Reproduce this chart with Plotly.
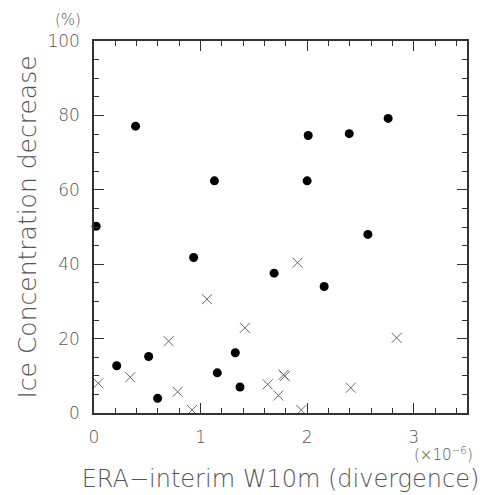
import plotly.graph_objects as go

# Filled circles (divergence x1e-6, ice concentration decrease %)
dot_x = [0.02, 0.39, 1.13, 2.01, 2.395, 2.76, 2.00, 2.57, 0.935, 0.213, 0.513,
         0.597, 1.157, 1.326, 1.37, 1.69, 2.16]
dot_y = [50.2, 77.1, 62.4, 74.6, 75.1, 79.2, 62.4, 48.0, 41.8, 12.7, 15.2,
         3.95, 10.8, 16.2, 7.0, 37.6, 34.0]

# Crosses
cross_x = [0.04, 0.34, 0.70, 0.785, 0.92, 1.06, 1.416, 1.91, 2.84, 1.78, 1.79,
           1.63, 1.73, 2.41, 1.945]
cross_y = [8.0, 9.6, 19.3, 5.7, 0.8, 30.6, 22.9, 40.4, 20.2, 10.3, 9.9,
           7.7, 4.7, 6.8, 0.8]

x_ticks = [0, 1, 2, 3]
y_ticks = [0, 20, 40, 60, 80, 100]

FONT = "DejaVu Sans"
TXT = "#555555"
AX = "#333333"
W = 200

fig = go.Figure()
fig.add_trace(go.Scatter(
    x=cross_x, y=cross_y, mode="markers",
    marker=dict(symbol="x-thin-open", size=10, color="#666666",
                line=dict(width=1, color="#666666")),
    cliponaxis=True, showlegend=False))
fig.add_trace(go.Scatter(
    x=dot_x, y=dot_y, mode="markers",
    marker=dict(symbol="circle", size=9, color="black"),
    cliponaxis=False, showlegend=False))

axis_common = dict(
    showgrid=False, zeroline=False, showline=True, linecolor=AX, linewidth=1.5,
    mirror="ticks", ticks="inside", ticklen=10, tickwidth=1.2, tickcolor=AX,
    tickfont=dict(family=FONT, size=17, color=TXT, weight=W),
)

fig.update_xaxes(
    range=[0, 3.5], tickvals=x_ticks, ticktext=[str(v) for v in x_ticks],
    minor=dict(ticks="inside", ticklen=5, tickwidth=1, tickcolor=AX, dtick=0.2, tick0=0),
    ticklabelstandoff=8,
    title=dict(text="ERA−interim W10m (divergence)",
               font=dict(family=FONT, size=24, color=TXT, weight=W), standoff=24),
    **axis_common)
fig.update_yaxes(
    range=[0, 100], tickvals=y_ticks, ticktext=[str(v) for v in y_ticks],
    minor=dict(ticks="inside", ticklen=5, tickwidth=1, tickcolor=AX, dtick=5, tick0=0),
    ticklabelstandoff=9,
    title=dict(text="Ice Concentration decrease",
               font=dict(family=FONT, size=25, color=TXT, weight=W), standoff=4),
    **axis_common)

fig.add_annotation(text="(%)", xref="paper", yref="paper", x=-0.0697, y=1.087,
                   xanchor="center", yanchor="top", showarrow=False,
                   font=dict(family=FONT, size=15, color=TXT, weight=W))
fig.add_annotation(text="(×10<sup>−6</sup>)", xref="paper", yref="paper", x=1.022, y=-0.11,
                   xanchor="right", yanchor="middle", showarrow=False,
                   font=dict(family=FONT, size=15, color=TXT, weight=W))

# page body has an 8px margin, so the figure is sized to fit the window
fig.update_layout(
    width=478, height=487,
    margin=dict(l=86, r=19, t=33, b=82, autoexpand=False),
    plot_bgcolor="white", paper_bgcolor="white",
)

fig.write_html("out.html")
